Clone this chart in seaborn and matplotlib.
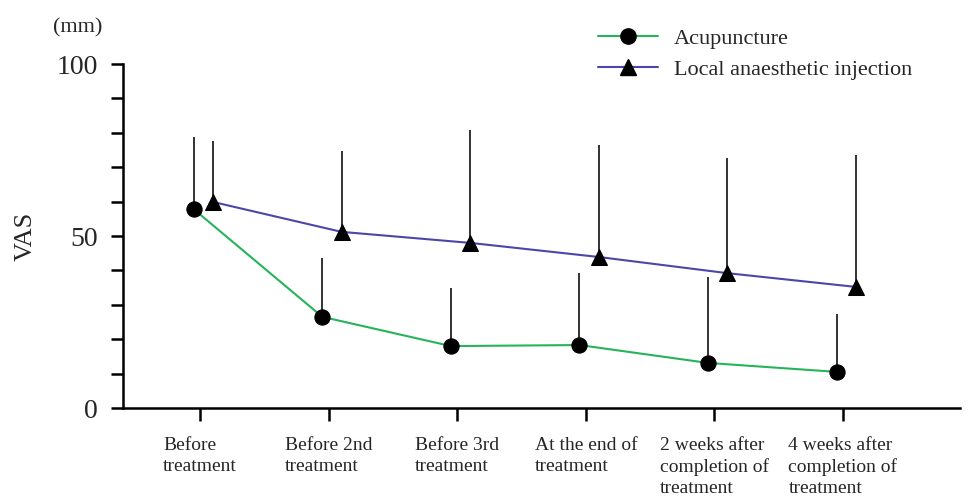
import matplotlib
matplotlib.use("Agg")
import matplotlib.pyplot as plt
import seaborn as sns
import pandas as pd
import numpy as np
from matplotlib.lines import Line2D

categories = ["Before\ntreatment", "Before 2nd\ntreatment", "Before 3rd\ntreatment",
              "At the end of\ntreatment", "2 weeks after\ncompletion of\ntreatment",
              "4 weeks after\ncompletion of\ntreatment"]
acu_mean = [57.8, 26.5, 18.0, 18.3, 13.1, 10.5]
acu_upper = [78.8, 43.6, 34.9, 39.2, 38.1, 27.3]
lai_mean = [59.9, 51.2, 48.0, 43.9, 39.2, 35.2]
lai_upper = [77.6, 74.7, 80.8, 76.5, 72.7, 73.5]
series_names = ["Acupuncture", "Local anaesthetic injection"]
ytick_vals = [0, 10, 20, 30, 40, 50, 60, 70, 80, 90, 100]
ytick_labels = ["0", "", "", "", "", "50", "", "", "", "", "100"]

sns.set_theme(style="white")
plt.rcParams["font.family"] = ["Liberation Serif", "DejaVu Serif"]

fig = plt.figure(figsize=(9.68, 4.98), dpi=100)
ax = fig.add_axes([123/968, 1 - 408/498, (960 - 123)/968, (408 - 64)/498])

x = np.arange(len(categories))
df = pd.DataFrame({
    "x": np.concatenate([x - 0.05, x + 0.10]),
    "VAS": acu_mean + lai_mean,
    "upper": acu_upper + lai_upper,
    "group": [series_names[0]] * len(x) + [series_names[1]] * len(x),
})

colors = {series_names[0]: "#25b45a", series_names[1]: "#4b47a8"}
markers = {series_names[0]: "o", series_names[1]: "^"}

# error bars (upper only)
for name in series_names:
    sub = df[df.group == name]
    ax.vlines(sub["x"], sub["VAS"], sub["upper"], colors="#222222", linewidth=1.3, zorder=2)

sns.lineplot(data=df, x="x", y="VAS", hue="group", style="group",
             palette=colors, markers=markers, dashes=False, ax=ax,
             linewidth=1.5, markersize=11, markeredgecolor="black",
             markerfacecolor="black", legend=False, zorder=3)
for line in ax.lines:
    line.set_markerfacecolor("black")
    line.set_markeredgecolor("black")

ax.set_xlim(-0.6, 5.91)
ax.set_ylim(0, 100)
ax.set_xticks(x)
ax.set_xticklabels(categories, fontsize=14, ha="center", multialignment="left",
                   linespacing=1.3)
ax.set_yticks(ytick_vals)
ax.set_yticklabels(ytick_labels, fontsize=20)
ax.set_xlabel("")
ax.set_ylabel("VAS", fontsize=19, labelpad=14)
ax.tick_params(axis="both", which="major", length=9, width=1.8, color="black",
               left=True, bottom=True)
ax.tick_params(axis="x", pad=12)
ax.tick_params(axis="y", pad=9)
for side in ["top", "right"]:
    ax.spines[side].set_visible(False)
for side in ["left", "bottom"]:
    ax.spines[side].set_color("black")
    ax.spines[side].set_linewidth(1.8)

fig.text(53/968, 1 - 28/498, "(mm)", fontsize=16, va="center", ha="left")

# legend
handles = [Line2D([], [], color=colors[n], marker=markers[n], markerfacecolor="black",
                  markeredgecolor="black", markersize=11, linewidth=1.5) for n in series_names]
fig.legend(handles, series_names, loc="upper left", bbox_to_anchor=(598/968, 1 - 28/498),
           frameon=False, fontsize=16, handlelength=2.7, handletextpad=0.7,
           labelspacing=0.5, borderaxespad=0, borderpad=0)

fig.savefig("out.png", dpi=100)
